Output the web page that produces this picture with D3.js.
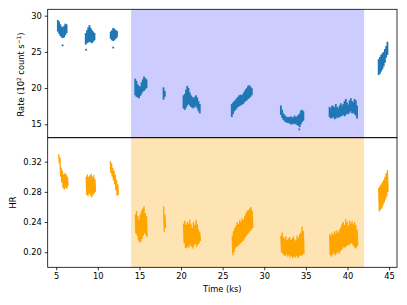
<!DOCTYPE html>
<html>
<head>
<meta charset="utf-8">
<script src="https://cdn.jsdelivr.net/npm/d3@7"></script>
<style>
  body { margin: 0; background: #fff; }
  text { font-family: "DejaVu Sans", sans-serif; }
</style>
</head>
<body>
<div id="chart"></div>
<script>
const WIDTH = 407;
const HEIGHT = 305;

// Panel edges.
const BOX = {'left': 47.7, 'right': 397, 'top': 9.3, 'mid': 137.7, 'bottom': 267.3};

// Bin width of the light curve (ks).
const BIN = 0.15;

// Shaded interval (ks).
const spanStart = 14;
const spanEnd = 42;

const xTicks = [5, 10, 15, 20, 25, 30, 35, 40, 45];
const rateTicks = [15, 20, 25, 30];
const hrTicks = [0.20, 0.24, 0.28, 0.32];

// Count rate: start time of each segment, then per-bin low / high of the cloud.
const rateStart = [5.2, 8.55, 11.55, 14.5, 17.9, 20.3, 26.1, 32.0, 37.85, 43.75];
const rateLo = [
  [27.8, 27.5, 27.2, 27.0, 26.9, 27.0, 27.3, 27.6],
  [26.0, 26.2, 26.3, 26.4, 26.3, 26.2, 26.4, 26.6],
  [26.8, 26.6, 26.5, 26.6, 26.8, 27.0],
  [19.0, 18.8, 18.7, 18.6, 18.9, 19.2, 19.5, 19.6, 19.8, 20.0],
  [18.4, 18.8],
  [17.2, 17.0, 17.3, 17.6, 17.8, 17.6, 17.4, 17.3, 17.2, 17.4, 17.5, 17.2, 16.8, 16.5],
  [16.0, 16.4, 16.8, 17.0, 17.2, 17.4, 17.5, 17.6, 17.7, 17.8, 18.0, 18.2, 18.3, 18.5, 18.6, 18.8, 19.0],
  [16.3, 15.9, 15.6, 15.4, 15.3, 15.2, 15.2, 15.1, 15.0, 15.0, 15.1, 15.0, 15.1, 14.9, 14.8, 14.6, 15.0, 15.3, 15.5],
  [16.0, 15.8, 15.9, 16.0, 15.7, 15.8, 16.0, 15.9, 16.0, 16.1, 16.2, 16.3, 16.1, 16.3, 16.5, 16.4, 16.6, 16.8, 16.5, 16.6, 16.4, 16.2, 15.8],
  [21.8, 22.0, 22.3, 22.6, 23.0, 23.5, 24.2, 24.6]
];
const rateHi = [
  [29.4, 29.2, 28.8, 28.5, 28.4, 28.6, 28.9, 28.8],
  [27.6, 28.0, 28.4, 28.7, 28.3, 28.0, 27.8, 27.6],
  [27.8, 28.0, 28.3, 28.2, 28.0, 27.9],
  [21.3, 21.0, 20.5, 20.3, 20.2, 20.8, 21.2, 21.6, 21.4, 21.2],
  [20.1, 19.6],
  [19.0, 19.2, 19.8, 20.3, 20.0, 19.4, 19.0, 18.8, 18.6, 18.8, 19.0, 18.7, 18.2, 17.8],
  [17.8, 18.0, 18.2, 18.4, 18.6, 18.8, 19.0, 19.1, 19.0, 19.2, 19.5, 19.8, 20.0, 20.3, 20.4, 20.2, 20.0],
  [17.6, 17.0, 16.5, 16.3, 16.1, 16.0, 16.0, 16.0, 16.1, 15.9, 16.0, 16.2, 16.0, 16.1, 16.3, 16.5, 16.9, 17.0, 16.8],
  [17.4, 17.2, 17.6, 17.5, 17.3, 17.8, 17.4, 17.2, 17.6, 17.9, 17.5, 17.8, 18.2, 18.5, 18.0, 17.7, 18.3, 18.6, 18.2, 18.0, 18.5, 18.3, 17.6],
  [24.0, 24.3, 24.6, 24.8, 25.0, 25.4, 25.8, 26.4]
];
// Stray single points below the clouds.
const rateOutT = [5.77, 8.6, 11.85, 34.2];
const rateOutV = [25.9, 25.3, 25.6, 14.3];

// Hardness ratio: same layout, drawn as a jagged line.
const hrStart = [5.3, 8.6, 11.5, 14.5, 17.9, 20.3, 26.15, 32.0, 37.85, 43.75];
const hrLo = [
  [0.318, 0.300, 0.292, 0.285, 0.283, 0.285, 0.284, 0.288],
  [0.276, 0.274, 0.278, 0.275, 0.273, 0.276, 0.278, 0.280],
  [0.305, 0.300, 0.295, 0.290, 0.282, 0.275, 0.276],
  [0.225, 0.222, 0.216, 0.213, 0.214, 0.218, 0.222, 0.225, 0.223, 0.220],
  [0.227, 0.232],
  [0.212, 0.206, 0.205, 0.208, 0.206, 0.210, 0.207, 0.205, 0.209, 0.211, 0.207, 0.210, 0.212, 0.215],
  [0.196, 0.200, 0.205, 0.207, 0.208, 0.210, 0.212, 0.213, 0.215, 0.217, 0.220, 0.222, 0.224, 0.226, 0.228, 0.230, 0.232],
  [0.200, 0.198, 0.196, 0.195, 0.197, 0.194, 0.196, 0.193, 0.195, 0.192, 0.194, 0.193, 0.195, 0.192, 0.194, 0.196, 0.195, 0.197, 0.198],
  [0.196, 0.194, 0.197, 0.199, 0.196, 0.198, 0.200, 0.198, 0.201, 0.203, 0.205, 0.207, 0.206, 0.208, 0.210, 0.209, 0.211, 0.212, 0.210, 0.208, 0.205, 0.206, 0.209],
  [0.254, 0.256, 0.258, 0.262, 0.266, 0.270, 0.274, 0.280]
];
const hrHi = [
  [0.330, 0.326, 0.312, 0.308, 0.303, 0.305, 0.303, 0.300],
  [0.300, 0.303, 0.300, 0.302, 0.304, 0.300, 0.302, 0.297],
  [0.321, 0.318, 0.312, 0.308, 0.303, 0.296, 0.290],
  [0.250, 0.255, 0.248, 0.243, 0.250, 0.255, 0.258, 0.261, 0.252, 0.248],
  [0.261, 0.250],
  [0.238, 0.242, 0.236, 0.240, 0.238, 0.243, 0.237, 0.232, 0.240, 0.236, 0.243, 0.237, 0.230, 0.226],
  [0.222, 0.228, 0.232, 0.235, 0.240, 0.238, 0.243, 0.240, 0.245, 0.243, 0.248, 0.252, 0.255, 0.256, 0.258, 0.260, 0.255],
  [0.222, 0.226, 0.220, 0.218, 0.221, 0.216, 0.218, 0.220, 0.216, 0.218, 0.221, 0.217, 0.215, 0.222, 0.219, 0.224, 0.226, 0.234, 0.228],
  [0.224, 0.222, 0.226, 0.223, 0.228, 0.225, 0.229, 0.226, 0.230, 0.233, 0.238, 0.240, 0.236, 0.244, 0.240, 0.235, 0.242, 0.238, 0.241, 0.237, 0.240, 0.236, 0.230],
  [0.285, 0.288, 0.290, 0.293, 0.296, 0.300, 0.305, 0.309]
];


window.onload = function() {

    var svg = d3.select("#chart").append("svg")
                .attr("width", WIDTH)
                .attr("height", HEIGHT);

    var x = d3.scaleLinear().domain([3.98, 45.95]).range([BOX.left, BOX.right]);
    var yRate = d3.scaleLinear().domain([13.15, 30.88]).range([BOX.mid, BOX.top]);
    var yHR = d3.scaleLinear().domain([0.180, 0.3518]).range([BOX.bottom, BOX.mid]);

    // Shaded spans.
    svg.append("rect")
       .attr("x", x(spanStart)).attr("y", BOX.top)
       .attr("width", x(spanEnd) - x(spanStart)).attr("height", BOX.mid - BOX.top)
       .attr("fill", "rgb(204,204,255)");
    svg.append("rect")
       .attr("x", x(spanStart)).attr("y", BOX.mid)
       .attr("width", x(spanEnd) - x(spanStart)).attr("height", BOX.bottom - BOX.mid)
       .attr("fill", "rgb(255,228,179)");

    // Rate clouds.
    var bw = x(BIN) - x(0);
    var rateG = svg.append("g").attr("fill", "#1f77b4");
    rateStart.forEach(function(t0, s) {
        rateLo[s].forEach(function(lo, i) {
            var t = t0 + i * BIN;
            rateG.append("rect")
                 .attr("x", x(t) - bw / 2 - 0.3)
                 .attr("y", yRate(rateHi[s][i]))
                 .attr("width", bw + 0.6)
                 .attr("height", yRate(lo) - yRate(rateHi[s][i]));
        });
    });
    rateOutT.forEach(function(t, i) {
        rateG.append("rect")
             .attr("x", x(t) - 0.9).attr("y", yRate(rateOutV[i]) - 0.9)
             .attr("width", 1.8).attr("height", 1.8);
    });

    // HR jagged line.
    var line = d3.line().x(function(d) { return x(d[0]); }).y(function(d) { return yHR(d[1]); });
    hrStart.forEach(function(t0, s) {
        var pts = [];
        hrLo[s].forEach(function(lo, i) {
            var t = t0 + i * BIN;
            pts.push([t, hrHi[s][i]]);
            pts.push([t + BIN / 2, lo]);
        });
        svg.append("path")
           .attr("d", line(pts))
           .attr("fill", "none")
           .attr("stroke", "#ffa500")
           .attr("stroke-width", 1.3);
    });

    // Axes.
    var fs = "8.3px";
    var rateAxis = svg.append("g").attr("transform", "translate(" + BOX.left + ",0)")
                      .call(d3.axisLeft(yRate).tickValues(rateTicks).tickSize(3).tickPadding(3));
    var hrAxis = svg.append("g").attr("transform", "translate(" + BOX.left + ",0)")
                    .call(d3.axisLeft(yHR).tickValues(hrTicks).tickSize(3).tickPadding(3)
                    .tickFormat(d3.format(".2f")));
    var xAxis = svg.append("g").attr("transform", "translate(0," + BOX.bottom + ")")
                   .call(d3.axisBottom(x).tickValues(xTicks).tickSize(3).tickPadding(3));
    [rateAxis, hrAxis, xAxis].forEach(function(a) {
        a.select(".domain").remove();
        a.selectAll("text").attr("font-size", fs).attr("fill", "#000")
         .attr("font-family", "DejaVu Sans");
        a.selectAll("line").attr("stroke", "#000").attr("stroke-width", 0.8);
    });

    // Panel frames.
    svg.append("rect")
       .attr("x", BOX.left).attr("y", BOX.top)
       .attr("width", BOX.right - BOX.left).attr("height", BOX.mid - BOX.top)
       .attr("fill", "none").attr("stroke", "#000").attr("stroke-width", 0.8);
    svg.append("rect")
       .attr("x", BOX.left).attr("y", BOX.mid)
       .attr("width", BOX.right - BOX.left).attr("height", BOX.bottom - BOX.mid)
       .attr("fill", "none").attr("stroke", "#000").attr("stroke-width", 0.8);

    // Labels.
    svg.append("text")
       .attr("x", (BOX.left + BOX.right) / 2).attr("y", 292)
       .attr("text-anchor", "middle").attr("font-size", fs)
       .text("Time (ks)");

    var rl = svg.append("text")
       .attr("transform", "translate(24," + ((BOX.top + BOX.mid) / 2 + 1) + ") rotate(-90)")
       .attr("text-anchor", "middle").attr("font-size", fs);
    rl.append("tspan").text("Rate (10");
    rl.append("tspan").attr("dy", -3).attr("font-size", "5.8px").text("2");
    rl.append("tspan").attr("dy", 3).text(" count s");
    rl.append("tspan").attr("dy", -3).attr("font-size", "5.8px").text("\u22121");
    rl.append("tspan").attr("dy", 3).text(")");

    svg.append("text")
       .attr("transform", "translate(16," + (BOX.mid + BOX.bottom) / 2 + ") rotate(-90)")
       .attr("text-anchor", "middle").attr("font-size", fs)
       .text("HR");
};
</script>
</body>
</html>
